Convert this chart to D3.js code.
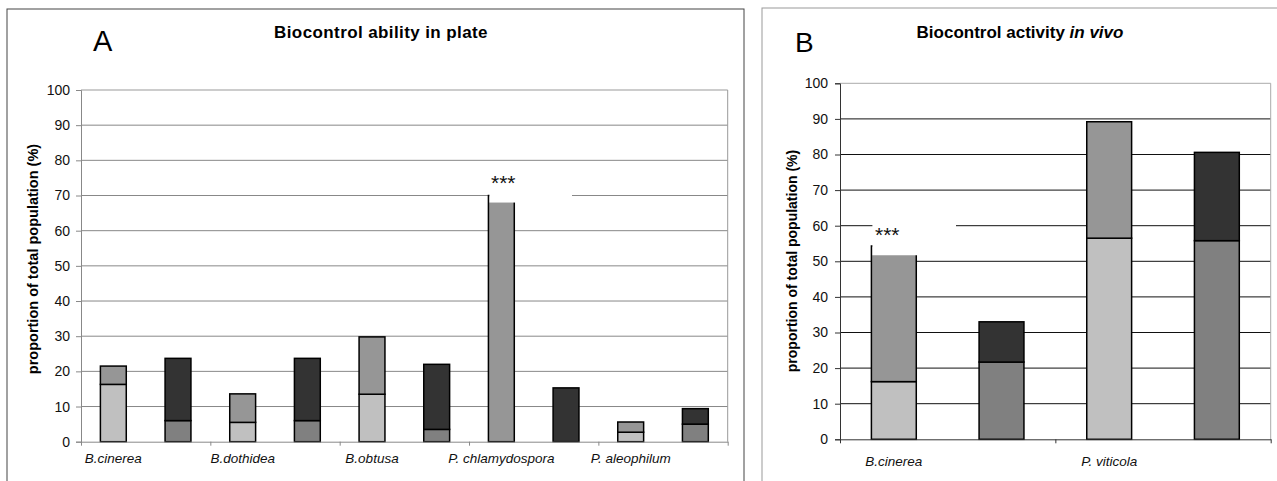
<!DOCTYPE html>
<html>
<head>
<meta charset="utf-8">
<script src="https://cdn.jsdelivr.net/npm/d3@7"></script>
<style>
body{margin:0;background:#fff;}
text{font-family:"Liberation Sans",Arial,sans-serif;}
</style>
</head>
<body>
<svg id="chart" width="1277" height="481"></svg>
<script>
// panel A: biocontrol ability in plate (two bars per pathogen)
var catsA = ['B.cinerea', 'B.dothidea', 'B.obtusa', 'P. chlamydospora', 'P. aleophilum'];
var lightA = [16.3, 0, 5.5, 0, 13.5, 0, 0, 0, 2.7, 0];
var midA   = [5.2, 0, 8.1, 0, 16.3, 0, 70, 0, 2.9, 0];
var darkA  = [0, 6, 0, 6, 0, 3.5, 0, 0, 0, 5];
var blackA = [0, 17.7, 0, 17.7, 0, 18.5, 0, 15.3, 0, 4.4];

// panel B: biocontrol activity in vivo
var catsB = ['B.cinerea', 'P. viticola'];
var lightB = [16.2, 0, 56.5, 0];
var midB   = [38.1, 0, 32.7, 0];
var darkB  = [0, 21.7, 0, 55.8];
var blackB = [0, 11.3, 0, 24.8];

var yTicks = [0, 10, 20, 30, 40, 50, 60, 70, 80, 90, 100];
var keys = ['light', 'mid', 'dark', 'black'];
var colors = {light: '#c0c0c0', mid: '#969696', dark: '#808080', black: '#333333'};

var svg = d3.select('#chart');

function drawPanel(o) {
	var g = svg.append('g');
	var rows = o.light.map(function (d, i) {
		return {i: i, light: d, mid: o.mid[i], dark: o.dark[i], black: o.black[i]};
	});
	var y = d3.scaleLinear().domain([0, 100]).range([o.bottom, o.top]);
	var xb = d3.scaleBand().domain(d3.range(rows.length)).range([o.left, o.right]);
	var xc = d3.scaleLinear().domain([0, o.cats.length]).range([o.left, o.right]);
	var bw = xb.bandwidth() / o.gap;
	var off = (xb.bandwidth() - bw) / 2;

	// outer frame
	g.append('rect').attr('x', o.frame[0]).attr('y', o.frame[1])
		.attr('width', o.frame[2]).attr('height', o.frame[3])
		.attr('fill', 'none').attr('stroke', o.frameColor).attr('stroke-width', 1);

	// gridlines
	g.selectAll('.grid').data(yTicks.filter(function (d) { return d > 0; }))
		.enter().append('line')
		.attr('x1', o.left).attr('x2', o.right)
		.attr('y1', function (d) { return y(d); }).attr('y2', function (d) { return y(d); })
		.attr('stroke', function (d) { return d === 100 ? o.edgeColor : o.gridColor; })
		.attr('stroke-width', 1);
	g.append('line').attr('x1', o.right).attr('x2', o.right)
		.attr('y1', o.top).attr('y2', o.bottom)
		.attr('stroke', o.edgeColor);

	// stacked bars
	var series = d3.stack().keys(keys)(rows);
	g.selectAll('.s').data(series).enter().append('g')
		.attr('fill', function (s) { return colors[s.key]; })
		.selectAll('rect').data(function (s) { return s.filter(function (d) { return d[1] > d[0]; }); })
		.enter().append('rect')
		.attr('x', function (d) { return xb(d.data.i) + off; })
		.attr('width', bw)
		.attr('y', function (d) { return y(d[1]); })
		.attr('height', function (d) { return y(d[0]) - y(d[1]); })
		.attr('stroke', '#000').attr('stroke-width', 1.5);

	// axes
	var ya = g.append('g').attr('transform', 'translate(' + o.left + ',0)')
		.call(d3.axisLeft(y).tickValues(yTicks).tickSize(5).tickPadding(o.tickPad));
	ya.selectAll('path,line').attr('stroke', o.axisColor);
	ya.selectAll('text').attr('font-size', 14).attr('fill', '#111').attr('font-family', null);
	var xa = g.append('g').attr('transform', 'translate(0,' + o.bottom + ')')
		.call(d3.axisBottom(xc).tickValues(d3.range(o.cats.length + 1)).tickSize(4).tickSizeOuter(0).tickFormat(''));
	xa.selectAll('path,line').attr('stroke', o.axisColor);

	// category names sit under the first bar of each pair
	g.selectAll('.cat').data(o.cats).enter().append('text')
		.attr('x', function (d, i) { return xb(i * 2) + xb.bandwidth() / 2; })
		.attr('y', o.catY)
		.attr('text-anchor', 'middle').attr('font-style', 'italic')
		.attr('font-size', 13.5).attr('fill', '#111')
		.text(function (d) { return d; });

	// y title
	g.append('text')
		.attr('transform', 'translate(' + o.ytitle[0] + ',' + o.ytitle[1] + ') rotate(-90)')
		.attr('text-anchor', 'middle').attr('dy', '0.35em')
		.attr('font-weight', 'bold').attr('font-size', o.ytitleSize).attr('fill', '#000')
		.text('proportion of total population (%)');

	// significance box: white text box covering the top of the bar
	var a = o.star;
	var bx = xb(a.bar) + off + 1;
	g.append('rect').attr('x', bx).attr('y', y(a.top))
		.attr('width', a.right - bx).attr('height', y(a.cover) - y(a.top))
		.attr('fill', '#fff');
	g.append('text').attr('x', a.tx).attr('y', a.ty)
		.attr('font-size', 21).attr('fill', '#111').text('***');

	return g;
}

var gA = drawPanel({
	cats: catsA, light: lightA, mid: midA, dark: darkA, black: blackA,
	left: 81, right: 727.7, top: 90, bottom: 441.7, gap: 2.5,
	frame: [7, 9, 737, 480], frameColor: '#444',
	gridColor: '#888', edgeColor: '#999', axisColor: '#888', tickPad: 6,
	catY: 463, ytitle: [33, 259], ytitleSize: 14.5,
	star: {bar: 6, cover: 68, top: 78.5, right: 572, tx: 491, ty: 190}
});
gA.append('text').attr('x', 93).attr('y', 51).attr('font-size', 29).text('A');
gA.append('text').attr('x', 381).attr('y', 38).attr('text-anchor', 'middle')
	.attr('font-size', 17).attr('font-weight', 'bold').attr('letter-spacing', 0.4)
	.text('Biocontrol ability in plate');

var gB = drawPanel({
	cats: catsB, light: lightB, mid: midB, dark: darkB, black: blackB,
	left: 840, right: 1270.7, top: 83.3, bottom: 439.3, gap: 2.4,
	frame: [762, 8, 530, 480], frameColor: '#999',
	gridColor: '#111', edgeColor: '#aaa', axisColor: '#333', tickPad: 7,
	catY: 466, ytitle: [792, 261], ytitleSize: 14,
	star: {bar: 0, cover: 51.7, top: 63.5, right: 956, tx: 875, ty: 242}
});
gB.append('text').attr('x', 795).attr('y', 52).attr('font-size', 28).text('B');
var tB = gB.append('text').attr('x', 1020).attr('y', 38).attr('text-anchor', 'middle')
	.attr('font-size', 17).attr('font-weight', 'bold');
tB.append('tspan').text('Biocontrol activity ');
tB.append('tspan').attr('font-style', 'italic').text('in vivo');
</script>
</body>
</html>
